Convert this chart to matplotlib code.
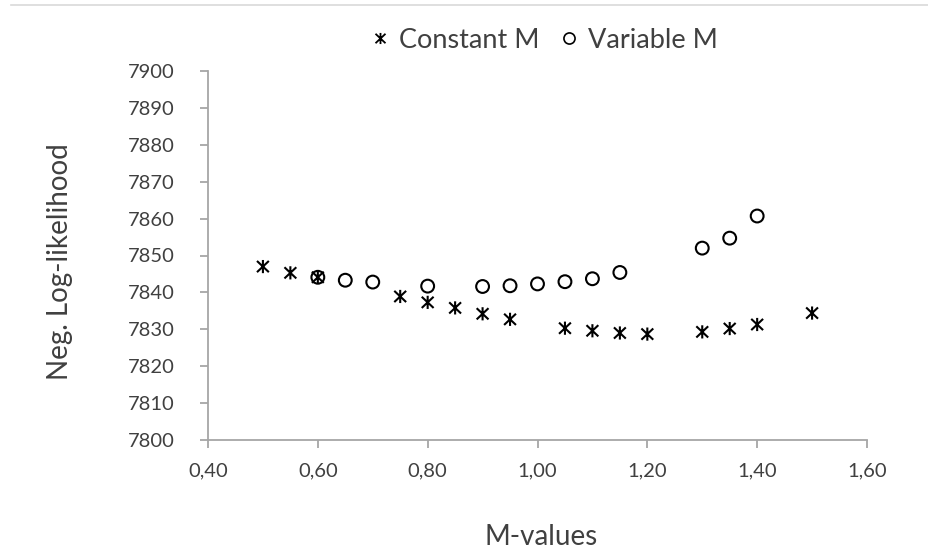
import matplotlib
matplotlib.use("Agg")
import matplotlib.pyplot as plt
from matplotlib.path import Path
from matplotlib.lines import Line2D

plt.rcParams['font.family'] = ['Lato', 'DejaVu Sans']

const_x = [0.50, 0.55, 0.60, 0.75, 0.80, 0.85, 0.90, 0.95, 1.05, 1.10, 1.15, 1.20, 1.30, 1.35, 1.40, 1.50]
const_y = [7847.0, 7845.3, 7844.1, 7838.9, 7837.3, 7835.8, 7834.2, 7832.7, 7830.3, 7829.6, 7829.0, 7828.7, 7829.3, 7830.2, 7831.3, 7834.4]
var_x = [0.60, 0.65, 0.70, 0.80, 0.90, 0.95, 1.00, 1.05, 1.10, 1.15, 1.30, 1.35, 1.40]
var_y = [7844.1, 7843.3, 7842.8, 7841.7, 7841.6, 7841.8, 7842.3, 7842.9, 7843.7, 7845.4, 7852.0, 7854.7, 7860.7]
x_ticks = [0.40, 0.60, 0.80, 1.00, 1.20, 1.40, 1.60]
y_ticks = list(range(7800, 7901, 10))

star = Path([(0, -1), (0, 1), (-0.9, -0.85), (0.9, 0.85), (-0.9, 0.85), (0.9, -0.85)],
            [Path.MOVETO, Path.LINETO, Path.MOVETO, Path.LINETO, Path.MOVETO, Path.LINETO])

fig = plt.figure(figsize=(9.29, 5.59), dpi=100)
ax = fig.add_axes([208/929, (559-440)/559, (867-208)/929, (440-71)/559])

ax.scatter(const_x, const_y, marker=star, s=90, facecolors='none', edgecolors='black', linewidths=1.5, zorder=3)
ax.scatter(var_x, var_y, marker='o', s=85, facecolors='none', edgecolors='black', linewidths=1.5, zorder=3)

ax.set_xlim(0.40, 1.60)
ax.set_ylim(7800, 7900)
ax.set_xticks(x_ticks)
ax.set_xticklabels([f"{v:.2f}".replace('.', ',') for v in x_ticks])
ax.set_yticks(y_ticks)
ax.set_yticklabels([str(v) for v in y_ticks])

for s in ['top', 'right']:
    ax.spines[s].set_visible(False)
for s in ['left', 'bottom']:
    ax.spines[s].set_color('#a6a6a6')
    ax.spines[s].set_linewidth(1.3)
ax.tick_params(axis='both', colors='#a6a6a6', length=6, width=1.3, labelsize=14.5, labelcolor='#404040')
ax.tick_params(axis='x', pad=10)
ax.tick_params(axis='y', pad=18)

fig.text(60/929, 1 - 262/559, 'Neg. Log-likelihood', rotation=90, ha='center', va='center',
         fontsize=20, color='#404040')
fig.text(541/929, 1 - 537/559, 'M-values', ha='center', va='center', fontsize=20, color='#404040')

handles = [Line2D([], [], marker=star, linestyle='none', color='black', markersize=8, markeredgewidth=1.3),
           Line2D([], [], marker='o', linestyle='none', markerfacecolor='none', markeredgecolor='black', markersize=8, markeredgewidth=1.2)]
fig.legend(handles, ['Constant M', 'Variable M'], loc='center', bbox_to_anchor=(542/929, 1 - 40/559),
           ncol=2, frameon=False, fontsize=19.5, handletextpad=0.2, columnspacing=0.6, handlelength=1.0,
           labelcolor='#404040')

fig.add_artist(Line2D([11/929, 1], [1 - 5/559, 1 - 5/559], color='#d9d9d9', linewidth=1.2))

fig.savefig('out.png', dpi=100, facecolor='white')
